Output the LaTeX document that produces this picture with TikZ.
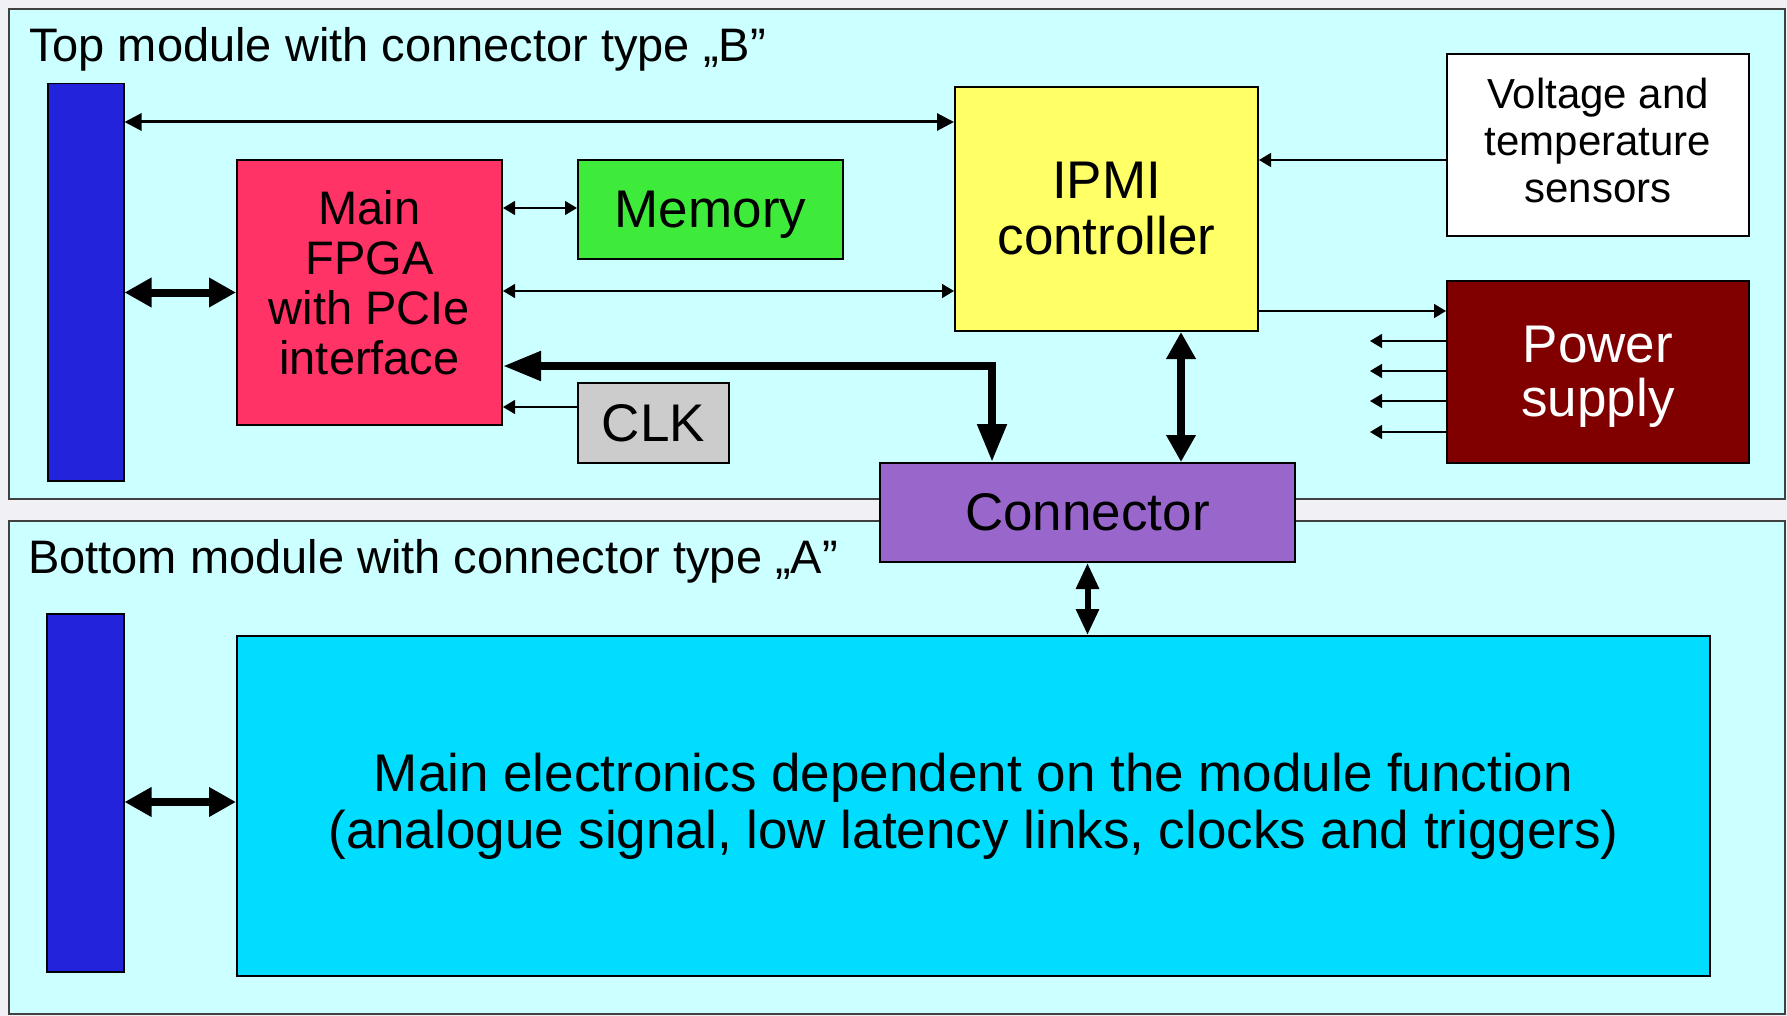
\documentclass[tikz,border=0pt]{standalone}
\usepackage{fontspec}
\setmainfont{Liberation Sans}
\usetikzlibrary{arrows.meta}

\definecolor{bgray}{RGB}{240,240,245}
\definecolor{panel}{RGB}{204,255,255}
\definecolor{barblue}{RGB}{35,35,220}
\definecolor{fpgared}{RGB}{255,51,102}
\definecolor{memgreen}{RGB}{62,235,58}
\definecolor{ipmiyellow}{RGB}{255,255,102}
\definecolor{clkgray}{RGB}{204,204,204}
\definecolor{psred}{RGB}{128,0,0}
\definecolor{connviolet}{RGB}{153,102,204}
\definecolor{maincyan}{RGB}{0,221,255}

\begin{document}
\begin{tikzpicture}[x=1pt, y=-1pt,
        box/.style={draw=black, line width=2pt, inner sep=0pt, align=center, anchor=north west},
        panelbox/.style={fill=panel, draw=black!75, line width=2pt},
        wirethin/.style={line width=1.5pt, >={Triangle[length=12pt,width=14pt]}},
        wiremid/.style={line width=3pt, >={Triangle[length=17pt,width=17pt]}},
        wirethick/.style={line width=8pt, >={Triangle[length=27pt,width=28pt]}}]
        \useasboundingbox (0,0) rectangle (1787,1016);

        % Background and the two module panels
        \fill[bgray] (0,0) rectangle (1787,1016);
        \filldraw[panelbox] (9,9) rectangle (1785,499);
        \filldraw[panelbox] (9,521) rectangle (1785,1014);
        \node[anchor=base west, inner sep=0pt, font=\fontsize{47}{50}\selectfont] (toptitle) at (29,62) {Top module with connector type „B”};
        \node[anchor=base west, inner sep=0pt, font=\fontsize{47}{50}\selectfont] (bottitle) at (28,573) {Bottom module with connector type „A”};

        % Front panel bars
        \node[box, fill=barblue, line width=1.5pt, minimum width=76pt, minimum height=397pt] (topbar) at (47,83) {};
        \node[box, fill=barblue, line width=1.5pt, minimum width=77pt, minimum height=358pt] (botbar) at (46,613) {};

        % Blocks of the top module
        \node[box, fill=fpgared, minimum width=265pt, minimum height=265pt, text depth=20pt, font=\fontsize{47}{50}\selectfont] (fpga) at (236,159) {Main\\FPGA\\with PCIe\\interface};
        \node[box, fill=memgreen, minimum width=265pt, minimum height=99pt, text depth=0pt, font=\fontsize{53}{56}\selectfont] (mem) at (577,159) {Memory};
        \node[box, fill=clkgray, minimum width=151pt, minimum height=80pt, font=\fontsize{53}{56}\selectfont] (clk) at (577,382) {CLK};
        \node[box, fill=ipmiyellow, minimum width=303pt, minimum height=244pt, font=\fontsize{53}{56}\selectfont] (ipmi) at (954,86) {IPMI\\controller};
        \node[box, fill=white, minimum width=302pt, minimum height=182pt, text depth=10pt, font=\fontsize{42}{47}\selectfont] (volt) at (1446,53) {Voltage and\\temperature\\sensors};
        \node[box, fill=psred, text=white, minimum width=302pt, minimum height=182pt, text depth=2pt, font=\fontsize{53}{54}\selectfont] (power) at (1446,280) {Power\\supply};
        \node[box, fill=connviolet, minimum width=415pt, minimum height=99pt, font=\fontsize{53}{56}\selectfont] (conn) at (879,462) {Connector};

        % Block of the bottom module
        \node[box, fill=maincyan, minimum width=1473pt, minimum height=340pt, font=\fontsize{53}{57}\selectfont] (mainel) at (236,635) {Main electronics dependent on the module function\\(analogue signal, low latency links, clocks and triggers)};

        % Links
        \draw[wiremid,<->] (topbar.east |- 0,122) -- (ipmi.west |- 0,122);
        \draw[wirethick,<->] (topbar.east |- fpga.west) -- (fpga.west);
        \draw[wirethin,<->] (fpga.east |- 0,208) -- (mem.west |- 0,208);
        \draw[wirethin,<->] (fpga.east |- 0,291) -- (ipmi.west |- 0,291);
        \draw[wirethick,<->,>={Triangle[length=38pt,width=28pt]}] (fpga.east |- 0,366) -| (conn.north -| 992,0);
        \draw[wirethin,->] (clk.west |- 0,407) -- (fpga.east |- 0,407);
        \draw[wirethin,->] (volt.west |- 0,160) -- (ipmi.east |- 0,160);
        \draw[wirethin,->] (ipmi.east |- 0,311) -- (power.west |- 0,311);
        \foreach \yy in {341,371,401,432}
            \draw[wirethin,->] (power.west |- 0,\yy) -- ++(-76,0);
        \draw[wirethick,<->] (ipmi.south -| 1181,0) -- (conn.north -| 1181,0);
        \draw[line width=6pt, <->, >={Triangle[length=26pt,width=22pt]}] (conn.south) -- (conn.south |- mainel.north);
        \draw[wirethick,<->] (botbar.east |- 0,802) -- (mainel.west |- 0,802);
\end{tikzpicture}
\end{document}
